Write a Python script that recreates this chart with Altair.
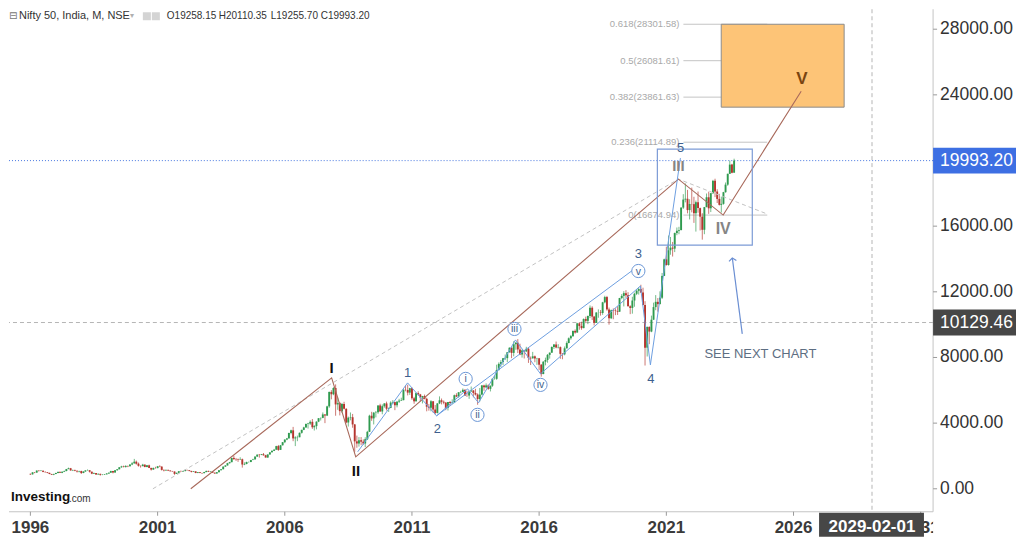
import altair as alt
import pandas as pd

# ---------------- monthly candles: Nifty 50, Jan 1996 .. Sep 2023 ----------------
first_open = 908
close = [
    880, 1000, 985, 1110, 1090, 1100, 1030, 1010, 970, 900, 860, 900,            # 1996
    960, 1030, 970, 1040, 1080, 1200, 1250, 1120, 1140, 1100, 1050, 1080,        # 1997
    960, 1050, 1120, 1130, 1040, 920, 960, 870, 910, 850, 860, 880,              # 1998
    930, 980, 1080, 990, 1130, 1190, 1310, 1360, 1330, 1390, 1370, 1480,         # 1999
    1550, 1650, 1530, 1400, 1380, 1470, 1330, 1430, 1270, 1170, 1270, 1260,      # 2000
    1370, 1350, 1150, 1120, 1150, 1110, 1070, 1050, 910, 970, 1070, 1060,        # 2001
    1080, 1140, 1130, 1080, 1030, 1060, 960, 1010, 960, 950, 1020, 1090,         # 2002
    1040, 1050, 980, 930, 1010, 1130, 1190, 1350, 1420, 1560, 1620, 1880,        # 2003
    1810, 1800, 1770, 1800, 1480, 1510, 1630, 1630, 1750, 1790, 1960, 2080,      # 2004
    2060, 2100, 2040, 1900, 2090, 2220, 2310, 2380, 2600, 2370, 2650, 2840,      # 2005
    3000, 3070, 3400, 3560, 3070, 3130, 3140, 3410, 3590, 3740, 3950, 3970,      # 2006
    4080, 3750, 3820, 4090, 4300, 4320, 4530, 4460, 5020, 5900, 5760, 6140,      # 2007
    5140, 5220, 4730, 5170, 4870, 4040, 4330, 4360, 3920, 2890, 2760, 2960,      # 2008
    2870, 2760, 3020, 3470, 4450, 4290, 4640, 4660, 5080, 4710, 5030, 5200,      # 2009
    4880, 4920, 5250, 5280, 5090, 5310, 5370, 5400, 6030, 6020, 5860, 6130,      # 2010
    5510, 5330, 5830, 5750, 5560, 5650, 5480, 5000, 4940, 5330, 4830, 4620,      # 2011
    5200, 5390, 5300, 5250, 4920, 5280, 5230, 5260, 5700, 5620, 5880, 5900,      # 2012
    6030, 5690, 5680, 5930, 5990, 5840, 5740, 5470, 5740, 6300, 6180, 6300,      # 2013
    6090, 6280, 6700, 6700, 7230, 7610, 7720, 7950, 7960, 8320, 8590, 8280,      # 2014
    8810, 8900, 8490, 8180, 8430, 8370, 8530, 7970, 7950, 8070, 7940, 7950,      # 2015
    7560, 6990, 7740, 7850, 8160, 8290, 8640, 8790, 8610, 8630, 8220, 8190,      # 2016
    8560, 8880, 9170, 9300, 9620, 9520, 10080, 9920, 9790, 10340, 10230, 10530,  # 2017
    11030, 10490, 10110, 10740, 10740, 10710, 11360, 11680, 10930, 10390, 10880, 10860,  # 2018
    10830, 10790, 11620, 11750, 11920, 11790, 11120, 11020, 11470, 11880, 12060, 12170,  # 2019
    11960, 11200, 8600, 9860, 9580, 10300, 11070, 11390, 11250, 11640, 12970, 13980,     # 2020
    13630, 14530, 14690, 14630, 15580, 15720, 15760, 17130, 17620, 17670, 16980, 17350,  # 2021
    17340, 16790, 17460, 17100, 16580, 15780, 17160, 17760, 17090, 18010, 18760, 18110,  # 2022
    17660, 17300, 17360, 18070, 18530, 19190, 19750, 19258.15, 19993.20,                 # 2023
]
high = [
    930, 1010, 1020, 1120, 1130, 1140, 1110, 1060, 1020, 980, 910, 920,
    980, 1060, 1070, 1050, 1110, 1210, 1290, 1270, 1170, 1170, 1110, 1100,
    1100, 1070, 1130, 1180, 1140, 1050, 990, 960, 940, 920, 890, 900,
    960, 990, 1100, 1090, 1140, 1200, 1320, 1400, 1410, 1440, 1420, 1490,
    1620, 1820, 1720, 1600, 1420, 1520, 1490, 1450, 1470, 1280, 1290, 1340,
    1390, 1430, 1370, 1180, 1190, 1170, 1130, 1090, 1060, 990, 1080, 1110,
    1100, 1180, 1170, 1140, 1100, 1080, 1070, 1020, 1020, 980, 1030, 1100,
    1100, 1080, 1060, 990, 1020, 1140, 1200, 1360, 1440, 1580, 1640, 1890,
    2010, 1880, 1840, 1920, 1840, 1610, 1650, 1660, 1760, 1830, 1970, 2090,
    2110, 2120, 2180, 2070, 2100, 2230, 2330, 2430, 2620, 2670, 2670, 2850,
    3010, 3100, 3420, 3600, 3770, 3200, 3240, 3430, 3600, 3780, 3980, 4020,
    4170, 4250, 3880, 4110, 4300, 4340, 4650, 4550, 5060, 5920, 6010, 6190,
    6360, 5550, 5280, 5230, 5300, 4910, 4400, 4650, 4560, 3950, 3240, 3150,
    3150, 3010, 3140, 3530, 4510, 4690, 4670, 4740, 5090, 5180, 5140, 5220,
    5310, 4950, 5330, 5400, 5300, 5350, 5480, 5550, 6070, 6290, 6340, 6150,
    6180, 5600, 5870, 5940, 5780, 5660, 5740, 5550, 5170, 5400, 5340, 5100,
    5220, 5630, 5500, 5380, 5280, 5290, 5350, 5450, 5740, 5820, 5890, 5970,
    6110, 6050, 5970, 5960, 6230, 6010, 6090, 5810, 6140, 6310, 6340, 6420,
    6360, 6290, 6730, 6870, 7560, 7700, 7840, 7970, 8180, 8330, 8620, 8630,
    8990, 8940, 9120, 8840, 8490, 8470, 8650, 8620, 8060, 8340, 8120, 7980,
    7970, 7600, 7780, 7990, 8210, 8310, 8680, 8820, 8970, 8810, 8670, 8270,
    8670, 8980, 9220, 9370, 9650, 9710, 10110, 10140, 10180, 10380, 10490, 10550,
    11170, 11120, 10530, 10760, 10930, 10890, 11390, 11760, 11750, 11040, 10920, 10990,
    10990, 11120, 11630, 11860, 12040, 12100, 11980, 11180, 11700, 11950, 12160, 12290,
    12430, 12250, 11430, 9890, 9900, 10550, 11340, 11800, 11620, 12030, 13150, 14020,
    14750, 15430, 15340, 15040, 15610, 15920, 15960, 17150, 17950, 18600, 18210, 17640,
    18350, 17790, 17560, 18110, 17130, 16790, 17170, 17990, 18100, 18020, 18820, 18890,
    18250, 17970, 17800, 18090, 18660, 19200, 19990, 19800, 20110.35,
]
low = [
    840, 870, 950, 980, 1050, 1070, 1010, 990, 950, 890, 840, 830,
    890, 940, 960, 950, 1020, 1070, 1190, 1100, 1080, 1070, 990, 1000,
    900, 950, 1040, 1100, 990, 890, 900, 850, 860, 800, 830, 840,
    870, 900, 970, 940, 990, 1100, 1180, 1280, 1300, 1290, 1320, 1360,
    1440, 1530, 1470, 1350, 1290, 1370, 1310, 1310, 1260, 1110, 1160, 1230,
    1250, 1320, 1110, 1060, 1110, 1080, 1050, 1040, 850, 900, 960, 1030,
    1030, 1060, 1110, 1070, 1000, 1020, 950, 950, 950, 920, 950, 1010,
    1030, 1020, 970, 920, 930, 1010, 1120, 1190, 1330, 1420, 1530, 1620,
    1760, 1700, 1640, 1770, 1290, 1440, 1490, 1590, 1620, 1740, 1790, 1950,
    1900, 2050, 2020, 1900, 1900, 2080, 2210, 2300, 2380, 2310, 2370, 2640,
    2780, 2960, 3060, 3320, 2900, 2600, 2900, 3140, 3360, 3570, 3730, 3670,
    3890, 3650, 3550, 3620, 4060, 4160, 4300, 4000, 4430, 4930, 5450, 5700,
    4450, 4810, 4470, 4630, 4830, 3990, 3790, 4170, 3720, 2250, 2500, 2570,
    2660, 2680, 2540, 2970, 3460, 4140, 3920, 4350, 4570, 4690, 4540, 4940,
    4770, 4680, 4910, 5160, 4790, 4960, 5230, 5350, 5390, 5940, 5690, 5720,
    5420, 5180, 5320, 5690, 5330, 5200, 5450, 4720, 4760, 4720, 4640, 4530,
    4590, 5160, 5140, 5150, 4790, 4770, 5040, 5160, 5220, 5580, 5550, 5820,
    5890, 5660, 5600, 5480, 5910, 5570, 5680, 5120, 5320, 5700, 5970, 6130,
    6030, 5930, 6210, 6650, 6640, 7220, 7420, 7540, 7840, 7720, 8290, 7960,
    8070, 8470, 8270, 8140, 7990, 7940, 8330, 7670, 7540, 7930, 7710, 7550,
    7240, 6830, 6980, 7520, 7680, 7930, 8290, 8520, 8560, 8550, 7920, 7890,
    8130, 8540, 8860, 9080, 9270, 9450, 9510, 9690, 9690, 9780, 10090, 10030,
    10400, 10280, 9950, 10110, 10420, 10550, 10600, 11300, 10850, 10000, 10340, 10330,
    10580, 10590, 10780, 11550, 11110, 11630, 11110, 10640, 10670, 11090, 11800, 11830,
    11930, 11180, 7510, 8060, 8810, 9540, 10300, 10880, 10790, 11240, 11560, 12960,
    13600, 13600, 14260, 14150, 14420, 15450, 15510, 15750, 17050, 17450, 16780, 16410,
    16840, 16200, 15670, 16820, 15740, 15180, 15510, 17150, 16750, 16860, 17960, 17770,
    17410, 17260, 16830, 17310, 18040, 18460, 19180, 19220, 19255.70,
]

# ---------------- wave annotations (date, value) ----------------
brown_dates = ["2002-04-22", "2007-11-05", "2008-10-16", "2021-06-23", "2023-03-28", "2026-04-21"]
brown_vals = [0, 6756, 1948, 18868, 16677, 24224]

dash_dates = ["2000-10-25", "2021-06-23", "2024-12-20"]
dash_vals = [0, 18868, 16738]

blue_dates = ["2008-11-13", "2010-10-30", "2011-12-20", "2013-03-10", "2013-08-14",
              "2015-01-27", "2016-01-21", "2019-12-25", "2020-05-17", "2021-07-22"]
blue_vals = [2252, 6452, 4443, 6086, 5234, 9069, 7000, 12355, 7547, 20146]

channel_dates = ["2011-12-20", "2019-11-26"]
channel_vals = [4443, 13573]

roman_text = ["I", "II", "III", "IV", "V"]
roman_dates = ["2007-11-05", "2008-10-20", "2021-06-23", "2023-03-28", "2026-05-03"]
roman_vals = [7365, 1096, 19659, 15825, 24954]
roman_colors = ["#111111", "#111111", "#858585", "#858585", "#7a4510"]
roman_sizes = [15, 15, 15, 16, 17]

num_text = ["1", "2", "3", "4", "5"]
num_dates = ["2010-10-30", "2012-01-01", "2019-11-26", "2020-05-22", "2021-07-26"]
num_vals = [7060, 3652, 14303, 6695, 20755]

circ_text = ["i", "ii", "iii", "iv", "v"]
circ_dates = ["2013-02-10", "2013-07-30", "2015-01-12", "2016-01-21", "2019-11-26"]
circ_vals = [6695, 4504, 9738, 6330, 13268]

fib_labels = ["0.618(28301.58)", "0.5(26081.61)", "0.382(23861.63)", "0.236(21114.89)", "0(16674.94)"]
fib_vals = [28301.58, 26081.61, 23861.63, 21114.89, 16674.94]
fib_start, fib_end, fib_label_at = "2021-09-03", "2024-12-20", "2021-07-22"

target_box = {"d": "2023-02-28", "d2": "2027-12-29", "v": 28301.58, "v2": 23250}
focus_box = {"d": "2020-08-25", "d2": "2024-05-19", "v": 20694, "v2": 14851}

arrow_dates = ["2023-12-27", "2023-08-06"]
arrow_vals = [9434, 14060]
note = {"d": "2024-09-12", "v": 8217, "t": "SEE NEXT CHART"}

last_price = 19993.20
cross_price = 10129.46
cross_date = "2029-02-01"

header_name = "Nifty 50, India, M, NSE"
ohlc_text = ["O19258.15", "H20110.35", "L19255.70", "C19993.20"]
ohlc_x = [158, 210, 262, 312]

year_ticks = [1996, 2001, 2006, 2011, 2016, 2021, 2026, 2031]
price_ticks = [0, 4000, 8000, 12000, 16000, 20000, 24000, 28000]

# ---------------- tables ----------------
dates = pd.date_range("1996-01-01", periods=len(close), freq="MS").strftime("%Y-%m-%d")
opens = [first_open] + close[:-1]
candles = pd.DataFrame({"date": dates, "open": opens, "close": close, "high": high, "low": low})
candles["col"] = ["#2f9a4f" if c >= o else "#b5352e" for o, c in zip(opens, close)]

W, H = 925, 503
xs = alt.Scale(type="utc", nice=False, padding=0,
               domain=[alt.DateTime(year=1995, month=2, date=28, utc=True),
                       alt.DateTime(year=2031, month=6, date=28, utc=True)])
ys = alt.Scale(domain=[-1400, 29215], nice=False, zero=False, padding=0)


def X(f="d"):
    return alt.X(f"{f}:T", scale=xs, axis=None)


def Y(f="v"):
    return alt.Y(f"{f}:Q", scale=ys, axis=None)


FONT = "Liberation Sans"
AXIS_LINE = "#c4c4c4"

# ---------------- axes drawn with the chart's scales ----------------
xt = pd.DataFrame({"d": [f"{y}-01-01" for y in year_ticks], "t": [str(y) for y in year_ticks]})
yt = pd.DataFrame({"v": price_ticks, "t": [f"{v:.2f}" for v in price_ticks]})
one = pd.DataFrame({"k": [0]})
axes = [
    alt.Chart(one).mark_rule(color=AXIS_LINE, strokeWidth=1).encode(
        x=alt.value(0), x2=alt.value(W), y=alt.value(H)),
    alt.Chart(xt).mark_rule(color="#9a9a9a").encode(x=X("d"), y=alt.value(H), y2=alt.value(H + 4)),
    alt.Chart(xt).mark_text(font=FONT, fontSize=17, fontWeight="bold", color="#3a3a3a",
                            baseline="middle").encode(x=X("d"), y=alt.value(H + 16), text="t"),
    # the time-axis strip ends at the price-axis line
    alt.Chart(one).mark_rect(color="white").encode(
        x=alt.value(W), x2=alt.value(W + 14), y=alt.value(H + 1), y2=alt.value(528)),
    alt.Chart(one).mark_rule(color=AXIS_LINE, strokeWidth=1).encode(
        x=alt.value(W), y=alt.value(0), y2=alt.value(H)),
    alt.Chart(yt).mark_rule(color="#9a9a9a").encode(x=alt.value(W), x2=alt.value(W + 4), y=Y("v")),
    alt.Chart(yt).mark_text(font=FONT, fontSize=17.5, color="#333333", align="left",
                            baseline="middle").encode(x=alt.value(W + 7), y=Y("v"), text="t"),
]

# crosshair + last price lines
cross_h = alt.Chart(pd.DataFrame({"v": [cross_price]})).mark_rule(
    color="#b5b5b5", strokeDash=[4, 3], strokeWidth=1).encode(y=Y("v"))
cross_v = alt.Chart(pd.DataFrame({"d": [cross_date]})).mark_rule(
    color="#b5b5b5", strokeDash=[4, 3], strokeWidth=1).encode(x=X("d"))
price_line = alt.Chart(pd.DataFrame({"v": [last_price]})).mark_rule(
    color="#4676e0", strokeDash=[1, 2], strokeWidth=1).encode(y=Y("v"))

# target box + fib levels
tbox = alt.Chart(pd.DataFrame([target_box])).mark_rect(
    fill="#fdc477", stroke="#8c8c8c", strokeWidth=1).encode(x=X("d"), x2="d2", y=Y("v"), y2="v2")
fib_df = pd.DataFrame({"d": fib_start, "d2": fib_end, "dl": fib_label_at, "v": fib_vals, "t": fib_labels})
fib_lines = alt.Chart(fib_df).mark_rule(color="#c4c4c4", strokeWidth=1).encode(x=X("d"), x2="d2", y=Y("v"))
fib_text = alt.Chart(fib_df).mark_text(align="right", baseline="middle", dx=-1, font=FONT,
                                      fontSize=9.5, color="#a9a9a9").encode(x=X("dl"), y=Y("v"), text="t")

# candles
wicks = alt.Chart(candles).mark_rule(strokeWidth=0.9, opacity=0.75).encode(
    x=X("date"), y=Y("low"), y2="high", color=alt.Color("col:N", scale=None))
bodies = alt.Chart(candles).mark_bar(size=1.9).encode(
    x=X("date"), y=Y("open"), y2="close", color=alt.Color("col:N", scale=None))


def path(ds, vs, seg):
    return pd.DataFrame({"d": ds, "v": vs, "o": list(range(len(ds))), "s": seg})


gray_dash = alt.Chart(path(dash_dates, dash_vals, "g")).mark_line(
    color="#c2c2c2", strokeDash=[4, 3], strokeWidth=1).encode(x=X(), y=Y(), order="o:Q")
brown = alt.Chart(path(brown_dates, brown_vals, "b")).mark_line(
    color="#a8695b", strokeWidth=1.1).encode(x=X(), y=Y(), order="o:Q")
blue = alt.Chart(pd.concat([path(blue_dates, blue_vals, "z"), path(channel_dates, channel_vals, "c")])).mark_line(
    color="#6d9fe0", strokeWidth=1).encode(x=X(), y=Y(), order="o:Q", detail="s:N")
fbox = alt.Chart(pd.DataFrame([focus_box])).mark_rect(
    fillOpacity=0, stroke="#7c9bd6", strokeWidth=1.2).encode(x=X("d"), x2="d2", y=Y("v"), y2="v2")

# labels
roman_df = pd.DataFrame({"d": roman_dates, "v": roman_vals, "t": roman_text, "c": roman_colors, "s": roman_sizes})
roman = alt.Chart(roman_df).mark_text(font=FONT, fontWeight="bold", baseline="middle").encode(
    x=X(), y=Y(), text="t", color=alt.Color("c:N", scale=None), size=alt.Size("s:Q", scale=None))
num_df = pd.DataFrame({"d": num_dates, "v": num_vals, "t": num_text})
nums = alt.Chart(num_df).mark_text(font=FONT, fontSize=13, color="#3e5f8e", baseline="middle").encode(
    x=X(), y=Y(), text="t")
circ_df = pd.DataFrame({"d": circ_dates, "v": circ_vals, "t": circ_text})
circles = alt.Chart(circ_df).mark_point(shape="circle", size=175, filled=True, fill="white",
                                        stroke="#6b97d6", strokeWidth=1, opacity=1).encode(x=X(), y=Y())
circ_lbl = alt.Chart(circ_df).mark_text(font=FONT, fontSize=10.5, color="#3e5f8e", baseline="middle", dy=0.5).encode(
    x=X(), y=Y(), text="t")

# arrow + note
arrow_line = alt.Chart(path(arrow_dates, arrow_vals, "a")).mark_line(
    color="#6a8ed2", strokeWidth=1.2).encode(x=X(), y=Y(), order="o:Q")
arrow_head = alt.Chart(pd.DataFrame({"d": [arrow_dates[1]], "v": [arrow_vals[1]]})).mark_point(
    shape="M-1,0.8L0,0L1,0.8", size=55, filled=False, stroke="#6a8ed2", strokeWidth=1.2,
    angle=352.5, opacity=1).encode(x=X(), y=Y())
note_txt = alt.Chart(pd.DataFrame([note])).mark_text(font=FONT, fontSize=13, color="#5d6e82").encode(
    x=X(), y=Y(), text="t")

# value boxes on the axes
pbox_df = pd.DataFrame({"v": [last_price, cross_price], "f": ["#3d6fe3", "#474747"],
                        "t": [f"{last_price:.2f}", f"{cross_price:.2f}"]})
pbox = alt.Chart(pbox_df).mark_rect(yOffset=-13, y2Offset=13).encode(
    x=alt.value(W), x2=alt.value(W + 83), y=Y("v"), y2="v", color=alt.Color("f:N", scale=None))
pbox_t = alt.Chart(pbox_df).mark_text(align="left", baseline="middle", font=FONT, fontSize=17.5,
                                     color="white").encode(x=alt.value(W + 7), y=Y("v"), text="t")
dbox_df = pd.DataFrame({"d": [cross_date]})
dbox = alt.Chart(dbox_df).mark_rect(xOffset=-53, x2Offset=52, color="#474747").encode(
    x=X("d"), x2="d", y=alt.value(H + 1), y2=alt.value(528))
dbox_t = alt.Chart(dbox_df).mark_text(font=FONT, fontSize=17, fontWeight="bold", color="white",
                                     baseline="middle").encode(x=X("d"), y=alt.value(H + 15), text=alt.value(cross_date))


# header + logo (fixed pixel placement, no scales)
def label(t, x, y, size, color, font=FONT, weight="normal"):
    return alt.Chart(pd.DataFrame({"t": [t]})).mark_text(
        align="left", baseline="middle", font=font, fontSize=size, color=color, fontWeight=weight).encode(
        x=alt.value(x), y=alt.value(y), text="t")


def icon(x):
    return alt.Chart(pd.DataFrame({"t": [0]})).mark_rect(color="#d4d4d4").encode(
        x=alt.value(x), x2=alt.value(x + 8), y=alt.value(3), y2=alt.value(11))


hdr = [label("⊟", 0, 7, 10, "#777", font="DejaVu Sans"),
       label(header_name, 10, 7, 11, "#333"),
       label("▾", 121, 7, 8, "#b0b0b0", font="DejaVu Sans"),
       icon(134), icon(143)]
hdr += [label(t, x, 7, 10, "#333") for t, x in zip(ohlc_text, ohlc_x)]
hdr += [label("Investing", 2, 488, 13.5, "#111", weight="bold"),
        label(".com", 60, 490, 10, "#333")]

chart = alt.layer(
    *axes, cross_h, cross_v, fib_lines, fib_text, tbox, price_line,
    wicks, bodies, gray_dash, brown, blue, fbox,
    roman, nums, circles, circ_lbl, arrow_line, arrow_head, note_txt,
    pbox, pbox_t, dbox, dbox_t, *hdr,
).properties(width=W, height=H, padding=0).configure_view(stroke=None)

chart.save("out.html", embed_options={"renderer": "svg", "actions": False})
